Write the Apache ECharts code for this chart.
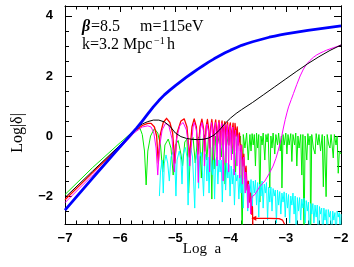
<!DOCTYPE html>
<html><head><meta charset="utf-8">
<script src="https://cdn.jsdelivr.net/npm/echarts@6/dist/echarts.min.js"></script>
<style>html,body{margin:0;padding:0;background:#fff}#c{width:354px;height:267px}</style>
</head><body><div id="c"></div>
<script>
// ---- axis ticks ----
const xMin = -7, xMax = -2;
const yMin = -2.93, yMax = 4.33;
const yTicks = [-2, 0, 2, 4];
const yMinorTicks = [-2.5, -1.5, -1, -0.5, 0.5, 1, 1.5, 2.5, 3, 3.5];

// ---- series (Log a, Log|delta|) ----
const blue = [[-7,-2.47],[-6.5,-1.4],[-6,-0.35],[-5.7,0.27],[-5.6,0.5],[-5.5,0.74],[-5.4,0.97],[-5.3,1.18],[-5.2,1.37],[-5.1,1.53],[-5.0,1.68],[-4.9,1.82],[-4.8,1.96],[-4.7,2.09],[-4.6,2.22],[-4.5,2.34],[-4.4,2.46],[-4.3,2.57],[-4.2,2.67],[-4.1,2.77],[-4.0,2.86],[-3.9,2.94],[-3.8,3.02],[-3.7,3.08],[-3.6,3.14],[-3.5,3.19],[-3.4,3.24],[-3.3,3.29],[-3.2,3.33],[-3.1,3.37],[-3.0,3.4],[-2.8,3.46],[-2.6,3.52],[-2.4,3.57],[-2.2,3.62],[-2.0,3.67]];

const black = [[-7,-2.05],[-6.5,-1.17],[-6,-0.3],[-5.7,0.28],[-5.6,0.4],[-5.5,0.48],[-5.4,0.53],[-5.3,0.53],[-5.2,0.47],[-5.1,0.33],[-5.0,0.1],[-4.9,-0.02],[-4.8,-0.08],[-4.7,-0.11],[-4.6,-0.12],[-4.5,-0.11],[-4.4,-0.07],[-4.3,0.03],[-4.2,0.2],[-4.1,0.42],[-4.0,0.6],[-3.9,0.75],[-3.8,0.88],[-3.6,1.12],[-3.4,1.38],[-3.2,1.64],[-3.0,1.9],[-2.8,2.16],[-2.6,2.41],[-2.4,2.64],[-2.2,2.85],[-2.0,3.03]];

const red = [[-7,-2.12],[-6.5,-1.22],[-6,-0.33],[-5.75,0.15],[-5.6,0.35],[-5.5,0.42],[-5.44,0.42],[-5.38,0.3],[-5.34,0.0],[-5.31,-0.9],[-5.28,0.0],[-5.22,0.45],[-5.16,0.59],[-5.1,0.45],[-5.05,0.1],[-5.01,-0.9],[-4.97,0.1],[-4.9,0.5],[-4.84,0.57],[-4.79,0.3],[-4.745,-0.7],[-4.7,0.3],[-4.66,0.57],[-4.62,0.3],[-4.59,-0.6],[-4.555,0.3],[-4.52,0.56],[-4.49,0.25],[-4.47,-0.5],[-4.445,0.3],[-4.42,0.55],[-4.395,0.2],[-4.38,-0.4],[-4.36,0.3],[-4.34,0.55],[-4.32,0.2],[-4.305,-0.3],[-4.29,0.3],[-4.27,0.54],[-4.255,0.2],[-4.24,-0.3],[-4.225,0.3],[-4.21,0.52],[-4.195,0.1],[-4.18,-0.3],[-4.17,0.3],[-4.155,0.5],[-4.14,0.1],[-4.13,-0.3],[-4.12,0.3],[-4.105,0.48],[-4.09,0.1],[-4.08,-0.3],[-4.07,0.3],[-4.055,0.46],[-4.04,0.0],[-4.03,-0.3],[-4.02,0.3],[-4.005,0.44],[-3.99,0.0],[-3.98,-0.4],[-3.97,0.2],[-3.955,0.43],[-3.94,-0.1],[-3.93,-0.5],[-3.92,0.42],[-3.9,0.0],[-3.88,0.3],[-3.86,-0.3],[-3.84,0.1],[-3.82,-0.5],[-3.8,-0.3],[-3.78,-1.0],[-3.76,-0.6],[-3.74,-1.4],[-3.72,-1.0],[-3.7,-1.8],[-3.68,-1.5],[-3.66,-2.2],[-3.64,-1.9],[-3.62,-2.6],[-3.605,-2.35],[-3.59,-3.5]];

const redTail = [[-3.58,-2.74],[-3.3,-2.74],[-3.12,-2.75],[-3.06,-2.8],[-3.02,-2.95]];

const magenta = [[-7,-2.22],[-6.5,-1.3],[-6,-0.4],[-5.75,0.1],[-5.6,0.3],[-5.5,0.34],[-5.44,0.3],[-5.39,0.1],[-5.35,-0.4],[-5.32,-1.3],[-5.29,-0.4],[-5.24,0.2],[-5.18,0.42],[-5.12,0.35],[-5.06,-0.1],[-5.02,-1.2],[-4.98,-0.1],[-4.92,0.35],[-4.86,0.45],[-4.8,0.2],[-4.76,-0.4],[-4.74,-1.0],[-4.71,-0.3],[-4.68,0.3],[-4.66,0.45],[-4.62,0.2],[-4.6,-0.4],[-4.585,-1.55],[-4.57,-0.3],[-4.545,0.25],[-4.52,0.45],[-4.49,0.15],[-4.475,-1.0],[-4.455,-0.1],[-4.43,0.4],[-4.415,0.45],[-4.395,0.1],[-4.38,-1.2],[-4.365,0.0],[-4.345,0.45],[-4.325,0.2],[-4.31,-0.8],[-4.295,0.1],[-4.275,0.45],[-4.26,0.1],[-4.245,-1.0],[-4.23,0.1],[-4.215,0.45],[-4.2,0.0],[-4.19,-0.8],[-4.175,0.1],[-4.16,0.42],[-4.145,-0.1],[-4.135,-1.5],[-4.125,0.1],[-4.11,0.4],[-4.095,-0.2],[-4.085,-0.9],[-4.075,0.1],[-4.06,0.38],[-4.045,-0.2],[-4.035,-1.2],[-4.025,0.1],[-4.01,0.35],[-3.995,-0.3],[-3.985,-0.8],[-3.975,0.1],[-3.96,0.3],[-3.945,-0.3],[-3.935,-1.3],[-3.925,0.0],[-3.91,0.2],[-3.895,-0.4],[-3.885,-1.0],[-3.875,-0.1],[-3.86,0.05],[-3.845,-0.7],[-3.835,-1.4],[-3.825,-0.4],[-3.81,-0.3],[-3.795,-1.0],[-3.785,-1.6],[-3.775,-0.8],[-3.76,-0.7],[-3.745,-1.4],[-3.735,-1.9],[-3.725,-1.2],[-3.71,-1.2],[-3.695,-1.8],[-3.685,-2.4],[-3.675,-1.6],[-3.66,-1.7],[-3.645,-2.2],[-3.635,-2.6],[-3.625,-2.1],[-3.6,-2.0],[-3.56,-1.95],[-3.47,-1.68],[-3.38,-1.5],[-3.3,-1.25],[-3.23,-1.0],[-3.18,-0.75],[-3.14,-0.5],[-3.1,-0.22],[-3.07,0.03],[-3.04,0.3],[-3.01,0.55],[-2.98,0.77],[-2.95,0.97],[-2.9,1.22],[-2.86,1.42],[-2.8,1.72],[-2.74,2.0],[-2.68,2.23],[-2.62,2.4],[-2.56,2.52],[-2.5,2.62],[-2.44,2.7],[-2.38,2.76],[-2.32,2.81],[-2.26,2.86],[-2.2,2.9],[-2.14,2.94],[-2.07,2.98],[-2,3.03]];

const green = [[-7,-1.95],[-6.5,-1.05],[-6,-0.22],[-5.8,0.1],[-5.7,0.24],[-5.64,0.25],[-5.6,0.05],[-5.56,-0.5],[-5.53,-1.63],[-5.5,-0.5],[-5.45,0.0],[-5.38,0.25],[-5.32,0.1],[-5.27,-0.3],[-5.23,-1.2],[-5.19,-0.3],[-5.13,-0.1],[-5.08,-0.4],[-5.04,-1.3],[-5.0,-0.3],[-4.95,-0.15],[-4.9,-0.6],[-4.87,-1.0],[-4.83,-0.2],[-4.79,-0.1],[-4.76,-1.9],[-4.72,-0.2],[-4.68,-0.05],[-4.64,-0.9],[-4.6,-0.1],[-4.56,0.0],[-4.53,-1.4],[-4.5,-0.1],[-4.46,0.05],[-4.43,-0.8],[-4.4,0.0],[-4.36,-0.4],[-4.34,-2.1],[-4.32,0.05],[-4.3,-1.1],[-4.27,0.0],[-4.24,-0.3],[-4.2,0.05],[-4.17,-0.7],[-4.14,0.05],[-4.1,-1.6],[-4.07,0.0],[-4.04,-0.3],[-4.0,0.1],[-3.97,-0.6],[-3.94,0.05],[-3.91,-1.2],[-3.88,0.1],[-3.85,-0.2],[-3.82,0.0],[-3.79,-3.5],[-3.77,0.05],[-3.74,-0.4],[-3.71,0.1],[-3.68,-0.8],[-3.65,0.05],[-3.63,-0.5],[-3.61,0.08],[-3.59,-0.3],[-3.57,0.05],[-3.55,-1.0],[-3.53,0.1],[-3.51,-0.4],[-3.49,0.05],[-3.47,-2.2],[-3.45,0.0],[-3.43,-0.3],[-3.41,0.1],[-3.38,-0.8],[-3.36,0.05],[-3.34,-0.2],[-3.32,0.08],[-3.29,-1.73],[-3.27,0.0],[-3.25,-0.4],[-3.23,0.1],[-3.2,-0.6],[-3.18,0.05],[-3.15,-0.3],[-3.13,0.1],[-3.1,-0.5],[-3.08,0.0],[-3.07,-1.73],[-3.05,0.05],[-3.03,-0.3],[-3.0,0.1],[-2.98,-0.6],[-2.96,0.05],[-2.94,-0.3],[-2.91,0.08],[-2.89,-0.85],[-2.87,0.05],[-2.84,-0.3],[-2.82,0.1],[-2.8,-1.0],[-2.78,0.0],[-2.76,-0.4],[-2.73,0.05],[-2.71,-1.3],[-2.69,0.05],[-2.67,-3.5],[-2.65,0.0],[-2.62,-0.8],[-2.6,0.08],[-2.58,-0.3],[-2.56,0.0],[-2.55,-3.5],[-2.53,0.05],[-2.5,-0.4],[-2.47,-0.6],[-2.45,0.08],[-2.42,-0.3],[-2.4,0.05],[-2.37,-0.5],[-2.34,0.05],[-2.32,-1.69],[-2.3,0.0],[-2.27,-2.02],[-2.25,0.05],[-2.22,-0.3],[-2.2,-0.4],[-2.18,0.05],[-2.14,-0.73],[-2.12,0.05],[-2.09,-0.3],[-2.07,0.0],[-2.05,-1.24],[-2.03,-0.5],[-2.0,-0.6]];

const cyan = [[-5.29,-2.0],[-5.27,-1.2],[-5.24,-0.8],[-5.22,-1.9],[-5.2,-0.9],[-5.17,-0.63],[-5.14,-0.9],[-5.11,-1.5],[-5.08,-0.7],[-5.04,-0.52],[-5.01,-0.9],[-4.99,-2.0],[-4.97,-0.8],[-4.93,-0.5],[-4.9,-0.8],[-4.88,-1.6],[-4.86,-0.6],[-4.82,-0.38],[-4.79,-0.7],[-4.77,-2.3],[-4.75,-0.6],[-4.72,-0.4],[-4.69,-0.7],[-4.67,-1.5],[-4.65,-2.4],[-4.63,-0.8],[-4.6,-0.5],[-4.58,-1.74],[-4.56,-0.7],[-4.53,-0.55],[-4.51,-1.2],[-4.49,-2.0],[-4.47,-0.8],[-4.45,-0.6],[-4.43,-1.5],[-4.41,-0.7],[-4.39,-1.9],[-4.37,-0.7],[-4.35,-0.65],[-4.33,-1.3],[-4.31,-0.75],[-4.29,-2.1],[-4.27,-0.8],[-4.25,-0.7],[-4.23,-1.6],[-4.21,-0.8],[-4.19,-1.2],[-4.17,-0.8],[-4.15,-2.2],[-4.13,-0.9],[-4.11,-1.0],[-4.09,-1.8],[-4.07,-0.9],[-4.05,-1.4],[-4.03,-0.95],[-4.01,-2.0],[-3.99,-1.0],[-3.97,-1.6],[-3.95,-1.1],[-3.93,-2.3],[-3.91,-1.2],[-3.89,-1.5],[-3.87,-1.3],[-3.85,-2.1],[-3.83,-1.3],[-3.81,-1.9],[-3.79,-1.35],[-3.77,-2.4],[-3.75,-1.4],[-3.73,-1.8],[-3.71,-1.45],[-3.69,-2.5],[-3.67,-1.5],[-3.65,-2.0],[-3.63,-1.45],[-3.61,-2.6],[-3.59,-1.5],[-3.57,-1.9],[-3.55,-1.47],[-3.53,-2.3],[-3.51,-1.55],[-3.49,-2.7],[-3.47,-1.6],[-3.45,-2.0],[-3.43,-1.5],[-3.41,-2.4],[-3.39,-1.6],[-3.37,-1.9],[-3.35,-1.55],[-3.33,-2.8],[-3.31,-1.7],[-3.29,-2.2],[-3.27,-1.7],[-3.25,-2.5],[-3.23,-1.75],[-3.21,-2.0],[-3.19,-1.8],[-3.17,-2.9],[-3.15,-1.8],[-3.13,-2.3],[-3.11,-1.85],[-3.09,-2.6],[-3.07,-1.9],[-3.05,-2.2],[-3.03,-1.86],[-3.01,-2.7],[-2.99,-1.9],[-2.97,-2.4],[-2.95,-1.95],[-2.93,-2.9],[-2.91,-2.0],[-2.89,-2.3],[-2.87,-1.9],[-2.85,-2.6],[-2.83,-2.0],[-2.81,-3.5],[-2.79,-2.05],[-2.77,-2.5],[-2.75,-2.05],[-2.73,-2.8],[-2.71,-2.1],[-2.69,-2.4],[-2.67,-2.07],[-2.65,-2.9],[-2.63,-2.15],[-2.61,-2.5],[-2.59,-2.2],[-2.57,-3.5],[-2.55,-2.25],[-2.53,-2.6],[-2.51,-2.25],[-2.49,-2.9],[-2.47,-2.3],[-2.45,-2.7],[-2.43,-2.3],[-2.41,-3.5],[-2.39,-2.35],[-2.37,-2.6],[-2.35,-2.4],[-2.33,-3.5],[-2.31,-2.4],[-2.29,-2.8],[-2.27,-2.45],[-2.25,-3.5],[-2.23,-2.45],[-2.21,-2.7],[-2.19,-2.5],[-2.17,-3.5],[-2.15,-2.5],[-2.13,-2.8],[-2.11,-2.55],[-2.09,-3.5],[-2.07,-2.5],[-2.05,-2.7],[-2.03,-2.55],[-2.01,-3.5],[-2.0,-2.6]];

// ---- chart ----
const minus = v => String(v).replace('-', '\u2212');
const tickFont = {fontFamily:'Liberation Sans', fontWeight:'bold', fontSize:13, color:'#000'};

function xAx(pos, labels){
  return {type:'value', min:xMin, max:xMax, interval:1, position:pos,
    axisLine:{show:true, onZero:false, lineStyle:{color:'#000', width:1}},
    axisTick:{show:true, inside:true, length:6, lineStyle:{color:'#000'}},
    minorTick:{show:true, splitNumber:5, length:3.5, lineStyle:{color:'#000'}},
    axisLabel:Object.assign({show:labels, margin:8, formatter:minus}, tickFont),
    splitLine:{show:false}, minorSplitLine:{show:false}};
}
function yAx(pos, vals, len, labels){
  return {type:'value', min:yMin, max:yMax, position:pos,
    axisLine:{show:true, onZero:false, lineStyle:{color:'#000', width:1}},
    axisTick:{show:true, inside:true, length:len, customValues:vals, lineStyle:{color:'#000'}},
    axisLabel:Object.assign({show:labels, customValues:vals, margin:12, formatter:minus}, tickFont),
    splitLine:{show:false}};
}
function line(data, color, width, z){
  return {type:'line', data:data, xAxisIndex:0, yAxisIndex:0, showSymbol:false, symbol:'none',
    lineStyle:{color:color, width:width, join:'round'}, itemStyle:{color:color}, z:z, clip:true, silent:true};
}

const chart = echarts.init(document.getElementById('c'), null, {renderer:'canvas'});
const tailData = redTail.map((p,i)=> i===0 ? {value:p, symbol:'triangle', symbolSize:[5,5], symbolRotate:90} : {value:p, symbol:'none'});
const tailSeries = line(tailData, '#ff0000', 1.2, 5);
tailSeries.showSymbol = true; tailSeries.showAllSymbol = true; delete tailSeries.symbol;

chart.setOption({
  animation:false,
  backgroundColor:'#fff',
  grid:{left:65, right:13, top:6, bottom:43, containLabel:false},
  xAxis:[xAx('bottom', true), xAx('top', false)],
  yAxis:[yAx('left', yTicks, 7, true), yAx('left', yMinorTicks, 4, false), yAx('right', yTicks, 7, false), yAx('right', yMinorTicks, 4, false)],
  series:[
    line(green, '#00ee00', 1, 2),
    line(cyan, '#00ffff', 1, 3),
    line(red, '#ff0000', 1.3, 4),
    tailSeries,
    line(magenta, '#ff00ff', 1, 6),
    line(black, '#000000', 1, 7),
    line(blue, '#0000ff', 2.8, 8)
  ],
  graphic:[
    {type:'text', x:202, y:249, style:{text:'Log  a', font:'15px "Liberation Serif"', fill:'#000', textAlign:'center', textVerticalAlign:'middle'}},
    {type:'text', x:18, y:133, rotation:Math.PI/2, style:{text:'Log|\u03b4|', font:'16px "Liberation Serif"', fill:'#000', textAlign:'center', textVerticalAlign:'middle'}},
    {type:'text', x:82, y:35, style:{text:'\u03b2', font:'italic bold 16px "Liberation Serif"', fill:'#000', textVerticalAlign:'bottom'}},
    {type:'text', x:91, y:35, style:{text:'=8.5', font:'16px "Liberation Serif"', fill:'#000', textVerticalAlign:'bottom'}},
    {type:'text', x:140, y:35, style:{text:'m=115eV', font:'16px "Liberation Serif"', fill:'#000', textVerticalAlign:'bottom'}},
    {type:'text', x:82, y:53, style:{text:'k=3.2 Mpc', font:'16px "Liberation Serif"', fill:'#000', textVerticalAlign:'bottom'}},
    {type:'text', x:154, y:46, style:{text:'\u22121', font:'10px "Liberation Serif"', fill:'#000', textVerticalAlign:'bottom'}},
    {type:'text', x:167, y:53, style:{text:'h', font:'16px "Liberation Serif"', fill:'#000', textVerticalAlign:'bottom'}}
  ]
});
</script></body></html>
